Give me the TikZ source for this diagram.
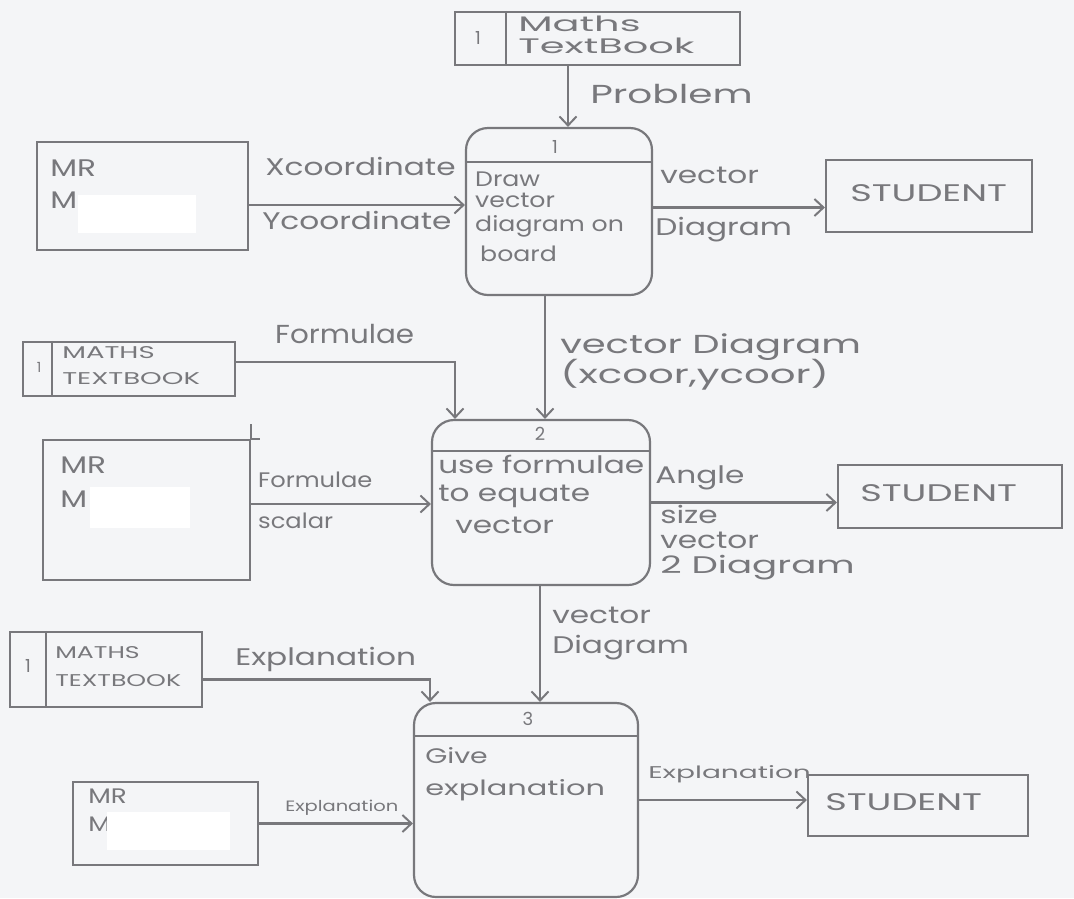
\documentclass[tikz,border=0pt]{standalone}
\usepackage{fontspec}
\setmainfont{Poppins}
\usetikzlibrary{arrows.meta}
\definecolor{ink}{RGB}{120,120,124}
\definecolor{paper}{RGB}{244,245,247}
\tikzset{
  pen/.style={draw=ink, line width=2.2pt},
  box/.style={pen, rectangle, inner sep=0pt},
  proc/.style={pen, rectangle, rounded corners=22pt, inner sep=0pt},
  flow/.style={pen, -{Straight Barb[length=9pt,width=17pt,line width=2pt]}},
  % lab={font size}{horizontal stretch}
  lab/.style 2 args={text=ink, inner sep=0pt, anchor=mid west, xscale=#2,
                     font=\fontsize{#1}{#1}\selectfont},
  num/.style={text=ink, inner sep=0pt, anchor=center, font=\fontsize{18}{18}\selectfont},
  hide/.style={fill=white, draw=none, inner sep=0pt}
}
\begin{document}
\begin{tikzpicture}[x=1pt,y=-1pt]
\path[use as bounding box, fill=paper] (0,0) rectangle (1074,898);

% ---- data stores ----
\node[box, minimum width=285pt, minimum height=53pt] (ds1) at (597.5,38.5) {};
\draw[pen] ([xshift=52pt]ds1.north west) -- ([xshift=52pt]ds1.south west);
\node[num] (ds1n) at (478,38) {1};
\node[lab={21}{1.9}] (ds1a) at (518,29) {Maths};
\node[lab={21}{1.9}] (ds1b) at (518,51) {TextBook};

\node[box, minimum width=212pt, minimum height=54pt] (ds2) at (129,369) {};
\draw[pen] ([xshift=30pt]ds2.north west) -- ([xshift=30pt]ds2.south west);
\node[num, font=\fontsize{14}{14}\selectfont] (ds2n) at (39,367) {1};
\node[lab={17}{1.62}] (ds2a) at (62,356) {MATHS};
\node[lab={17}{1.62}] (ds2b) at (62,382) {TEXTBOOK};

\node[box, minimum width=192pt, minimum height=75pt] (ds3) at (106,669.5) {};
\draw[pen] ([xshift=37pt]ds3.north west) -- ([xshift=37pt]ds3.south west);
\node[num] (ds3n) at (28,666) {1};
\node[lab={17}{1.48}] (ds3a) at (55,656) {MATHS};
\node[lab={17}{1.48}] (ds3b) at (55,684) {TEXTBOOK};

% ---- external entity: MR M ----
\node[box, minimum width=211pt, minimum height=108pt] (mr1) at (142.5,196) {};
\node[lab={24}{1.3}] (mr1a) at (50,174) {MR};
\node[lab={24}{1.3}] (mr1b) at (50,206) {M};
\node[hide, minimum width=118pt, minimum height=38pt] (mr1h) at (137,214) {};

\node[box, minimum width=207pt, minimum height=140pt] (mr2) at (146.5,510) {};
\draw[pen] (mr2.north east) -- ++(9,0);
\draw[pen] (mr2.north east) -- ++(0,-15);
\node[lab={24}{1.3}] (mr2a) at (60,471) {MR};
\node[lab={24}{1.3}] (mr2b) at (60,505) {M};
\node[hide, minimum width=100pt, minimum height=41pt] (mr2h) at (140,507.5) {};

\node[box, minimum width=185pt, minimum height=83pt] (mr3) at (165.5,823.5) {};
\node[lab={21}{1.25}] (mr3a) at (88,801) {MR};
\node[lab={21}{1.25}] (mr3b) at (88,829) {M};
\node[hide, minimum width=123pt, minimum height=38pt] (mr3h) at (168.5,831) {};

% ---- external entity: STUDENT ----
\node[box, minimum width=206pt, minimum height=72pt] (st1) at (929,196) {};
\node[lab={24}{1.53}] (st1t) at (850,199) {STUDENT};
\node[box, minimum width=224pt, minimum height=63pt] (st2) at (950,496.5) {};
\node[lab={24}{1.53}] (st2t) at (860,499) {STUDENT};
\node[box, minimum width=220pt, minimum height=61pt] (st3) at (918,805.5) {};
\node[lab={24}{1.53}] (st3t) at (825,808) {STUDENT};

% ---- processes ----
\node[proc, minimum width=186pt, minimum height=167pt] (p1) at (559,211.5) {};
\draw[pen] ([yshift=-35pt]p1.north west) -- ([yshift=-35pt]p1.north east);
\node[num] (p1n) at (555,147) {1};
\node[lab={21}{1.2}] (p1a) at (475,184) {Draw};
\node[lab={21}{1.2}] (p1b) at (475,205) {vector};
\node[lab={21}{1.2}] (p1c) at (475,229) {diagram on};
\node[lab={21}{1.2}] (p1d) at (480,259) {board};

\node[proc, minimum width=218pt, minimum height=165pt] (p2) at (541,502.5) {};
\draw[pen] ([yshift=-32pt]p2.north west) -- ([yshift=-32pt]p2.north east);
\node[num] (p2n) at (540,434) {2};
\node[lab={24}{1.3}] (p2a) at (438,471) {use formulae};
\node[lab={24}{1.3}] (p2b) at (438,499) {to equate};
\node[lab={24}{1.3}] (p2c) at (455,531) {vector};

\node[proc, minimum width=224pt, minimum height=194pt] (p3) at (526,800) {};
\draw[pen] ([yshift=-34pt]p3.north west) -- ([yshift=-34pt]p3.north east);
\node[num] (p3n) at (528,719) {3};
\node[lab={21}{1.35}] (p3a) at (425,761) {Give};
\node[lab={21}{1.45}] (p3b) at (425,793) {explanation};

% ---- connector end points ----
\coordinate (c1) at ([xshift=-29.5pt]ds1.south);
\coordinate (c2) at ([yshift=-9pt]mr1.east);
\coordinate (c3) at ([xshift=-14pt]p1.south);
\coordinate (c4) at ([yshift=7pt]ds2.east);
\coordinate (c5) at ([xshift=-86pt]p2.north);
\coordinate (c6) at ([yshift=6pt]mr2.east);
\coordinate (c7) at ([xshift=-1pt]p2.south);
\coordinate (c8) at ([yshift=-10pt]ds3.east);
\coordinate (c9) at ([xshift=-96pt]p3.north);
\coordinate (c10) at ([yshift=4pt]p1.east);

% ---- data flows ----
\draw[flow] (c1) -- (c1 |- p1.north);
\node[lab={26}{1.5}] (l1) at (590,101) {Problem};

\draw[flow] (c2) -- (p1.west |- c2);
\node[lab={24}{1.3}] (l2) at (265,173) {Xcoordinate};
\node[lab={24}{1.3}] (l3) at (262,227) {Ycoordinate};

\draw[flow] (c10) -- (st1.west |- c10);
\node[lab={24}{1.3}] (l4) at (660,181) {vector};
\node[lab={24}{1.3}] (l5) at (655,233) {Diagram};

\draw[flow] (c3) -- (c3 |- p2.north);
\node[lab={26}{1.48}] (l6) at (560,351) {vector Diagram};
\node[lab={26}{1.55}] (l7) at (560,381) {(xcoor,ycoor)};

\draw[flow] (c4) -| (c5);
\node[lab={26}{1.13}] (l8) at (275,341) {Formulae};

\draw[flow] (c6) -- (p2.west |- c6);
\node[lab={21}{1.15}] (l9) at (258,485) {Formulae};
\node[lab={21}{1.15}] (l10) at (258,526) {scalar};

\draw[flow] (p2.east) -- (st2.west |- p2.east);
\node[lab={24}{1.3}] (l11) at (655,481) {Angle};
\node[lab={24}{1.3}] (l12) at (660,521) {size};
\node[lab={24}{1.3}] (l13) at (660,546) {vector};
\node[lab={24}{1.55}] (l14) at (660,571) {2 Diagram};

\draw[flow] (c7) -- (c7 |- p3.north);
\node[lab={24}{1.3}] (l15) at (552,621) {vector};
\node[lab={24}{1.3}] (l16) at (552,651) {Diagram};

\draw[flow] (c8) -| (c9);
\node[lab={24}{1.3}] (l17) at (235,663) {Explanation};

\draw[flow] (mr3.east) -- (p3.west |- mr3.east);
\node[lab={15}{1.3}] (l18) at (285,809) {Explanation};

\draw[flow] (p3.east) -- (st3.west |- p3.east);
\node[lab={17}{1.65}] (l19) at (648,776) {Explanation};
\end{tikzpicture}
\end{document}
